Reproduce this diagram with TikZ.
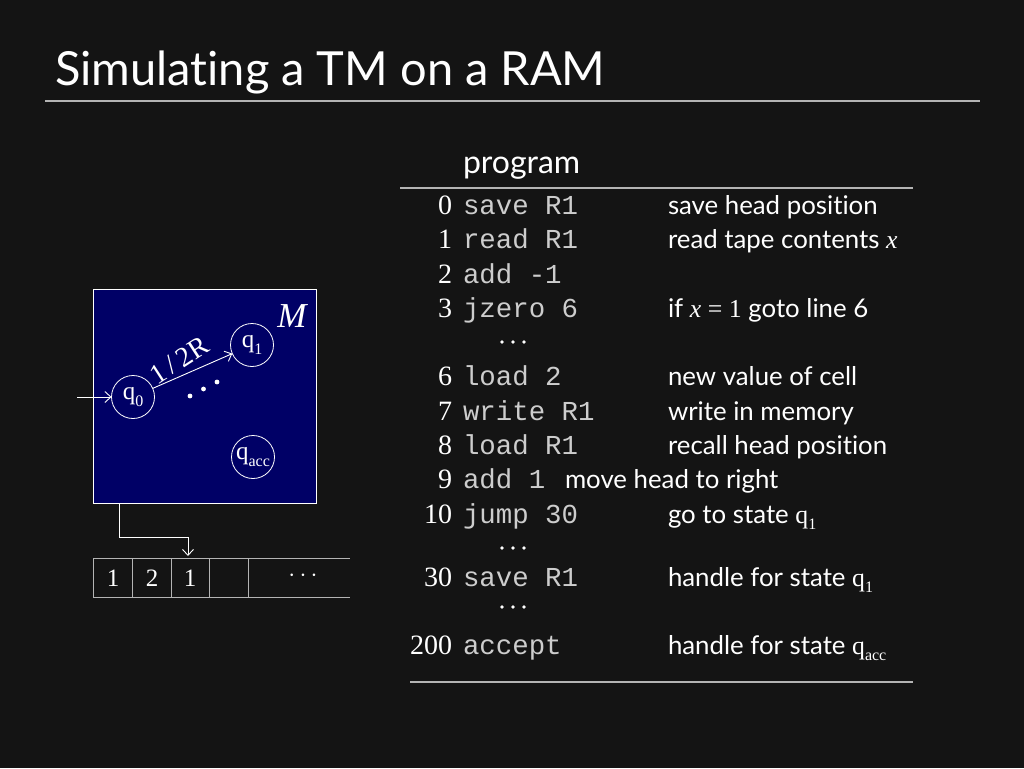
\documentclass[tikz,border=0pt]{standalone}
\usepackage{fontspec}
\setmainfont{Lato}[Ligatures=NoCommon]
\newfontfamily\seriffont{Liberation Serif}
\newfontfamily\codefont{Liberation Mono}
\usetikzlibrary{arrows.meta}
\definecolor{bg}{HTML}{141414}
\definecolor{navybox}{HTML}{000066}
\definecolor{rulegray}{HTML}{B4B4B4}
\definecolor{codegray}{HTML}{CDCDCD}
\tikzset{
  every node/.style={inner sep=0pt, outer sep=0pt, text=white},
  title/.style={font=\fontsize{47}{56}\selectfont, anchor=base west},
  numtxt/.style={font=\seriffont\fontsize{28}{34}\selectfont, anchor=base east},
  codetxt/.style={font=\codefont\fontsize{27.4}{34}\selectfont, text=codegray, anchor=base west},
  desctxt/.style={font=\fontsize{25.8}{34}\selectfont, anchor=base west},
  hrule/.style={draw=rulegray, line width=1.2pt},
  statenode/.style={circle, draw=white, line width=0.8pt, minimum size=43pt, font=\seriffont\fontsize{25}{30}\selectfont},
  wline/.style={draw=white, line width=0.9pt},
  arr/.style={wline, -{Straight Barb[length=6pt,width=11pt]}},
  tapetxt/.style={font=\seriffont\fontsize{25}{30}\selectfont},
}
\newcommand{\qsub}[1]{q\raisebox{-0.25em}{\fontsize{16}{18}\selectfont #1}}
\newcommand{\tabdots}[2]{\fill[white] (#1-11,#2) circle (1.9) (#1,#2) circle (1.9) (#1+11,#2) circle (1.9);}
\begin{document}
\begin{tikzpicture}[x=1pt,y=-1pt]
\fill[bg] (0,0) rectangle (1024,768);
\useasboundingbox (0,0) rectangle (1024,768);

% title
\node[title] (title) at (55,85) {Simulating a TM on a RAM};
\coordinate (tl) at (45,101);
\coordinate (tr) at (980,101);
\draw[hrule] (tl) -- (tr);

% machine box
\node[draw=white, line width=0.8pt, fill=navybox, minimum width=223pt, minimum height=214pt, anchor=north west] (box) at (93,289) {};
\node[font=\seriffont\itshape\fontsize{35}{38}\selectfont] (M) at (292,316) {M};
\node[statenode] (q0) at (133,397) {\qsub{0}};
\node[statenode] (q1) at (252,345) {\qsub{1}};
\node[statenode] (qacc) at (253,457) {\qsub{acc}};
\coordinate (start) at (77,397);
\draw[arr] (start) -- (q0);
\draw[arr] (q0) -- (q1);
\node[rotate=33, font=\seriffont\fontsize{28}{30}\selectfont] (lab) at (179,360) {1\,/\,2R};
\fill[white] (190,396) circle (2.4) (203.5,389) circle (2.4) (217,382) circle (2.4);

% head
\coordinate (h0) at (119,503);
\coordinate (h1) at (119,537);
\coordinate (h2) at (188,537);
\coordinate (h3) at (188,556);
\draw[arr] (h0) -- (h1) -- (h2) -- (h3);

% tape
\coordinate (t0) at (93,558);
\coordinate (t1) at (350,558);
\coordinate (b0) at (93,597);
\coordinate (b1) at (350,597);
\draw[draw=rulegray, line width=1pt] (t0) -- (t1) (b0) -- (b1);
\foreach \xx in {93,132,171,209,248} \draw[draw=rulegray, line width=1pt] (\xx,558) -- (\xx,597);
\node[tapetxt] (c1) at (113,578) {1};
\node[tapetxt] (c2) at (152,578) {2};
\node[tapetxt] (c3) at (190,578) {1};
\node[tapetxt] (c5) at (303,576) {$\cdots$};

% program table
\node[font=\fontsize{32}{38}\selectfont, anchor=base west] (prog) at (463,173) {program};
\coordinate (r0) at (400,188);
\coordinate (r1) at (913,188);
\draw[hrule] (r0) -- (r1);
\coordinate (s0) at (410,682);
\coordinate (s1) at (913,682);
\draw[hrule] (s0) -- (s1);

\node[numtxt] (n0) at (452,214) {0};
\node[codetxt] (k0) at (463,214) {save R1};
\node[desctxt] (d0) at (668,214) {save head position};
\node[numtxt] (n1) at (452,248) {1};
\node[codetxt] (k1) at (463,248) {read R1};
\node[desctxt] (d1) at (668,248) {read tape contents {\seriffont\itshape x}};
\node[numtxt] (n2) at (452,283) {2};
\node[codetxt] (k2) at (463,283) {add -1};
\node[numtxt] (n3) at (452,317) {3};
\node[codetxt] (k3) at (463,317) {jzero 6};
\node[desctxt] (d3) at (668,317) {if {\seriffont\itshape x} {\seriffont = 1} goto line 6};
\tabdots{513}{342}
\node[numtxt] (n6) at (452,385) {6};
\node[codetxt] (k6) at (463,385) {load 2};
\node[desctxt] (d6) at (668,385) {new value of cell};
\node[numtxt] (n7) at (452,420) {7};
\node[codetxt] (k7) at (463,420) {write R1};
\node[desctxt] (d7) at (668,420) {write in memory};
\node[numtxt] (n8) at (452,454) {8};
\node[codetxt] (k8) at (463,454) {load R1};
\node[desctxt] (d8) at (668,454) {recall head position};
\node[numtxt] (n9) at (452,488) {9};
\node[codetxt] (k9) at (463,488) {add 1};
\node[desctxt] (d9) at (565,488) {move head to right};
\node[numtxt] (n10) at (452,523) {10};
\node[codetxt] (k10) at (463,523) {jump 30};
\node[desctxt] (d10) at (668,523) {go to state {\seriffont\qsub{1}}};
\tabdots{513}{548}
\node[numtxt] (n30) at (452,586) {30};
\node[codetxt] (k30) at (463,586) {save R1};
\node[desctxt] (d30) at (668,586) {handle for state {\seriffont\qsub{1}}};
\tabdots{513}{607}
\node[numtxt] (n200) at (452,654) {200};
\node[codetxt] (k200) at (463,654) {accept};
\node[desctxt] (d200) at (668,654) {handle for state {\seriffont\qsub{acc}}};
\end{tikzpicture}
\end{document}
